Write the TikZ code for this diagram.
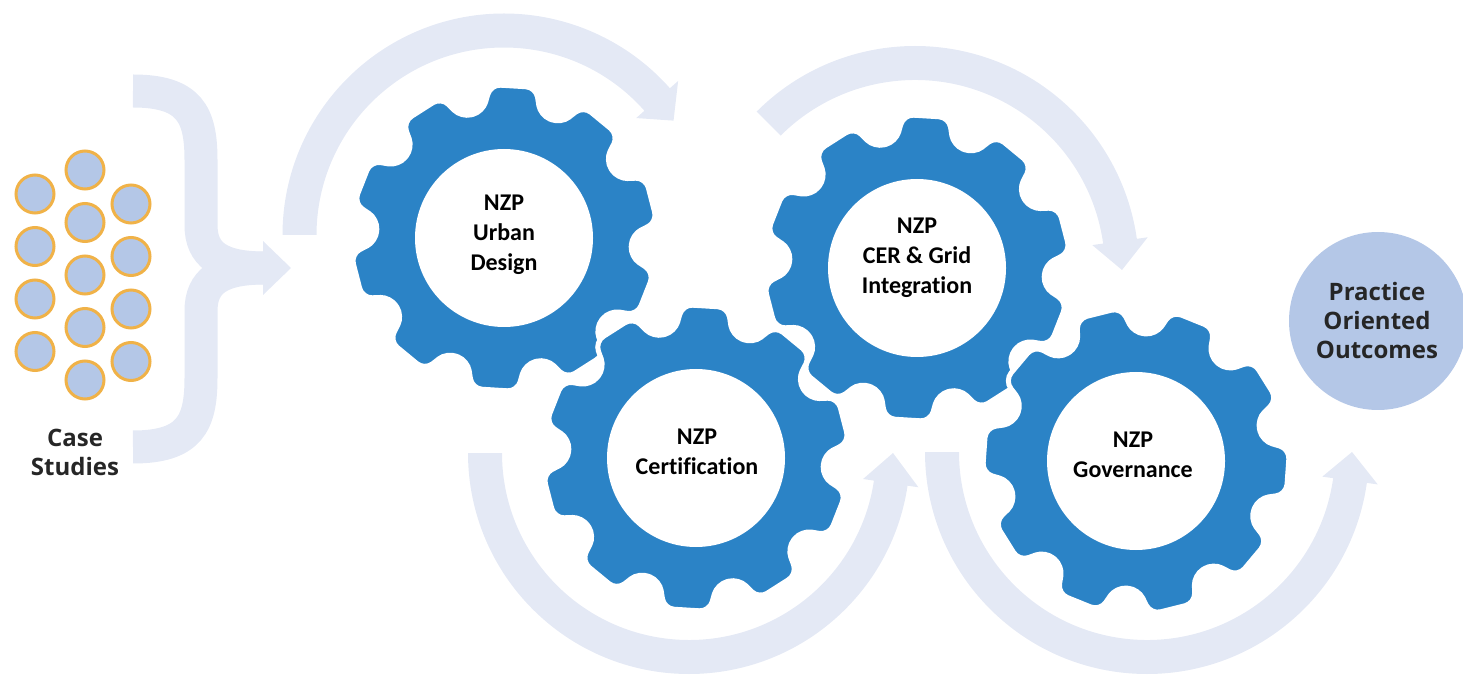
\documentclass[tikz,border=0pt]{standalone}
\usepackage{fontspec}
\usepackage{tikz}
\usetikzlibrary{calc,positioning}

\newfontfamily\gearfont[Ligatures=NoCommon]{Carlito}
\newfontfamily\capfont{Open Sans}

\definecolor{gearblue}{RGB}{43,131,198}
\definecolor{flowbg}{RGB}{228,233,245}
\definecolor{dotfill}{RGB}{180,199,231}
\definecolor{dotring}{RGB}{240,178,72}
\definecolor{inktext}{RGB}{38,38,38}

% gear outline, #1 = angle of the first tooth
\newcommand{\gear}[1]{%
  \fill[gearfill] ({#1-13}:128) -- ({#1-8.5}:154) -- ({#1+8.5}:154) -- ({#1+13}:128)
    \foreach \k in {1,...,9}{ -- ({#1+36*\k-13}:128) -- ({#1+36*\k-8.5}:154)
      -- ({#1+36*\k+8.5}:154) -- ({#1+36*\k+13}:128)} -- cycle;}

% curved band with head: cx, cy, mid radius, start, end, tip
\newcommand{\bandarrow}[6]{%
  \begin{scope}[shift={(#1,#2)}]
  \fill[flowbg] (#4:{#3+17}) arc[start angle=#4, end angle=#5, radius={#3+17}]
    -- (#5:{#3+28}) -- (#6:#3) -- (#5:{#3-28}) -- (#5:{#3-17})
    arc[start angle=#5, end angle=#4, radius={#3-17}] -- cycle;
  \end{scope}}

\begin{document}
\begin{tikzpicture}[x=1pt, y=1pt]
\tikzstyle{gearfill}=[fill=gearblue, draw=white, line width=5pt, rounded corners=10pt]
\tikzstyle{hub}=[circle, fill=white, inner sep=0pt, minimum size=178pt]
\tikzstyle{hubtext}=[align=center, text=black, font=\gearfont\bfseries\fontsize{24}{30}\selectfont]
\tikzstyle{dot}=[circle, fill=dotfill, draw=dotring, line width=3pt, inner sep=0pt, minimum size=38pt]
\tikzstyle{captext}=[align=center, text=inktext, font=\capfont\bfseries\fontsize{24}{29}\selectfont]

\useasboundingbox (0,0) rectangle (1463,675);

% background flow
\draw[flowbg, line width=33pt] (133,584) .. controls (190,584) and (201,560) .. (201,515)
  -- (201,450) .. controls (201,420) and (220,407) .. (265,407);
\draw[flowbg, line width=33pt] (133,228) .. controls (190,228) and (201,252) .. (201,297)
  -- (201,364) .. controls (201,394) and (220,407) .. (265,407);
\fill[flowbg] (263,434) -- (291,407) -- (263,380) -- cycle;

\bandarrow{504}{440}{204.5}{180}{41.5}{34}
\bandarrow{689}{222}{204}{180}{351.5}{360}
\bandarrow{915}{405}{207}{135}{8}{0}
\bandarrow{1147}{223}{205}{180}{352}{360}

% gears
\begin{scope}[shift={(504,437)}] \gear{86.5} \end{scope}
\begin{scope}[shift={(696,217)}] \gear{86.5} \end{scope}
\begin{scope}[shift={(917,407)}] \gear{86.5} \end{scope}
\begin{scope}[shift={(1136,214)}] \gear{104} \end{scope}

\node[hub] (urban) at (504,437) {};
\node[hub] (cert) at (696,217) {};
\node[hub] (grid) at (917,407) {};
\node[hub] (gov) at (1136,214) {};

\node[hubtext] (urban-txt) at (504,440) {NZP\\Urban\\Design};
\node[hubtext] (cert-txt) at (697,223) {NZP\\Certification};
\node[hubtext] (grid-txt) at (917,417) {NZP\\CER \& Grid\\Integration};
\node[hubtext] (gov-txt) at (1133,220) {NZP\\Governance};

% case studies
\foreach \i in {0,...,3} \node[dot] (ca-\i) at (35,{481-52.5*\i}) {};
\foreach \i in {0,...,4} \node[dot] (cb-\i) at (85,{505-52.5*\i}) {};
\foreach \i in {0,...,3} \node[dot] (cc-\i) at (131,{471-52.5*\i}) {};
\node[captext] (case) at (75,223) {Case\\Studies};

\node[circle, fill=dotfill, minimum size=178pt, inner sep=0pt] (outcomes) at (1378,354) {};
\node[captext] (outcomes-txt) at (1377,354) {Practice\\Oriented\\Outcomes};
\end{tikzpicture}
\end{document}
